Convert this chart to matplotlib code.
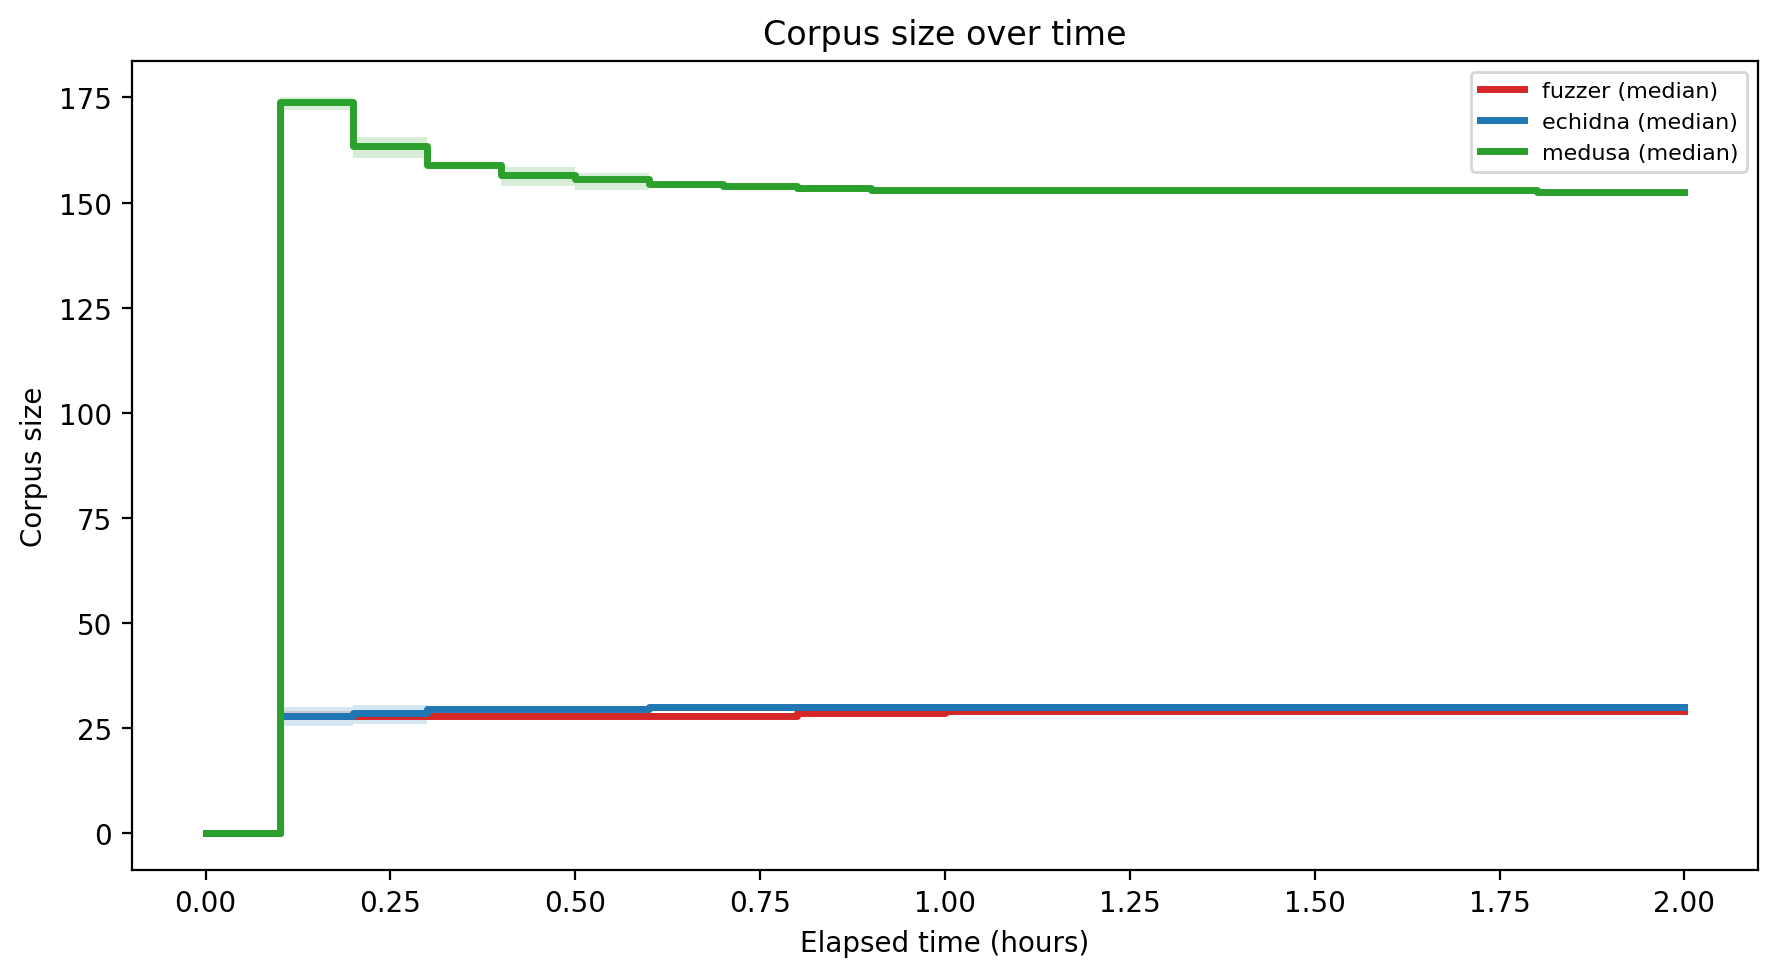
"""Corpus size over time: median step lines with min/max bands."""

import matplotlib

matplotlib.use("Agg")
import matplotlib.pyplot as plt

hours = [0.0, 0.1, 0.2, 0.3, 0.4, 0.5, 0.6, 0.7, 0.8, 0.9, 1.0,
         1.1, 1.2, 1.3, 1.4, 1.5, 1.6, 1.7, 1.8, 1.9, 2.0]

fuzzer_med = [0, 28, 28, 28, 28, 28, 28, 28, 28.5, 28.5, 29,
              29, 29, 29, 29, 29, 29, 29, 29, 29, 29]
fuzzer_lo = [0, 27, 27, 27.5, 27.5, 27.5, 27.5, 27.5, 28, 28, 28.5,
             28.5, 28.5, 28.5, 28.5, 28.5, 28.5, 28.5, 28.5, 28.5, 28.5]
fuzzer_hi = [0, 29, 29, 28.5, 28.5, 28.5, 28.5, 28.5, 29, 29, 29,
             29, 29, 29, 29, 29, 29, 29, 29, 29, 29]

echidna_med = [0, 28, 28.5, 29.5, 29.5, 29.5, 30, 30, 30, 30, 30,
               30, 30, 30, 30, 30, 30, 30, 30, 30, 30]
echidna_lo = [0, 25.5, 26, 29, 29, 29, 29.5, 29.5, 29.5, 29.5, 29.5,
              29.5, 29.5, 29.5, 29.5, 29.5, 29.5, 29.5, 29.5, 29.5, 29.5]
echidna_hi = [0, 30, 30.5, 30, 30, 30, 30, 30, 30, 30, 30,
              30, 30, 30, 30, 30, 30, 30, 30, 30, 30]

medusa_med = [0, 174, 163.5, 159, 156.5, 155.5, 154.5, 154, 153.5, 153, 153,
              153, 153, 153, 153, 153, 153, 153, 152.5, 152.5, 152.5]
medusa_lo = [0, 172, 160.5, 158, 154, 153, 154, 153.5, 153, 152.5, 152.5,
             152.5, 152.5, 152.5, 152.5, 152.5, 152.5, 152.5, 152, 152, 152]
medusa_hi = [0, 175, 165.5, 159.5, 158.5, 157, 155, 154.5, 154, 153.5, 153.5,
             153.5, 153.5, 153.5, 153.5, 153.5, 153.5, 153.5, 153, 153, 153]

series = [
    ("fuzzer", fuzzer_med, fuzzer_lo, fuzzer_hi, "#d62728"),
    ("echidna", echidna_med, echidna_lo, echidna_hi, "#1f77b4"),
    ("medusa", medusa_med, medusa_lo, medusa_hi, "#2ca02c"),
]

fig = plt.figure(figsize=(8.895, 4.89), dpi=200)
ax = fig.add_axes([0.074, 0.1094, 0.9144, 0.8275])

for name, med, lo, hi, color in series:
    ax.fill_between(hours, lo, hi, step="post", color=color, alpha=0.18, linewidth=0)
    ax.step(hours, med, where="post", color=color, linewidth=2.5,
            label=f"{name} (median)")

ax.set_title("Corpus size over time")
ax.set_xlabel("Elapsed time (hours)")
ax.set_ylabel("Corpus size")
ax.legend(loc="upper right", fontsize=8)

fig.savefig("out.png", dpi=200)
